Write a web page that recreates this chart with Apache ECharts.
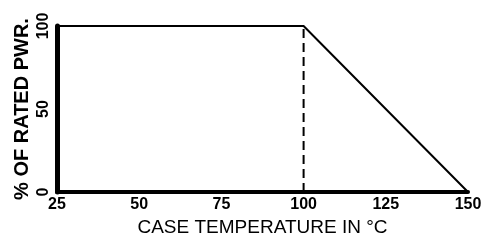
<!DOCTYPE html>
<html>
<head>
    <meta charset='utf-8' />
    <script src="https://cdn.jsdelivr.net/npm/echarts@6/dist/echarts.min.js"></script>
    <title>Power Derating</title>
    <style>
        html, body { margin: 0; padding: 0; background: #fff; }
        #chart { width: 487px; height: 245px; }
    </style>
</head>
<body>
    <div id="chart"></div>
    <script type="text/javascript">
        // derating curve: case temperature (°C) vs % of rated power
        var temps = [25, 100, 150];
        var power = [100, 100, 0];
        // vertical dashed marker at the knee
        var kneeTemp = [100, 100];
        var kneePower = [0, 100];
        var xTicks = [25, 50, 75, 100, 125, 150];
        var yTicks = [0, 50, 100];

        var curve = temps.map(function(t, i) { return [t, power[i]]; });
        var knee = kneeTemp.map(function(t, i) { return [t, kneePower[i]]; });

        var font = 'Liberation Sans';
        var chart = echarts.init(document.getElementById('chart'), null, { renderer: 'canvas' });
        chart.setOption({
            animation: false,
            backgroundColor: '#fff',
            grid: { left: 57, right: 19, top: 26, bottom: 53, outerBoundsMode: 'none' },
            xAxis: {
                type: 'value',
                min: 25,
                max: 150,
                interval: 25,
                name: 'CASE TEMPERATURE IN °C',
                nameLocation: 'middle',
                nameGap: 26,
                nameMoveOverlap: false,
                nameTextStyle: { fontFamily: font, fontSize: 19, color: '#000', verticalAlign: 'top' },
                axisLine: { lineStyle: { color: '#000', width: 4 } },
                axisTick: { show: false },
                splitLine: { show: false },
                axisLabel: {
                    fontFamily: font, fontSize: 16, fontWeight: 'bold', color: '#000', margin: 5,
                    customValues: xTicks
                }
            },
            yAxis: {
                type: 'value',
                min: 0,
                max: 100,
                interval: 50,
                name: '% OF RATED PWR.',
                nameLocation: 'middle',
                nameRotate: 90,
                nameGap: 25,
                nameMoveOverlap: false,
                nameTextStyle: { fontFamily: font, fontSize: 20, fontWeight: 'bold', color: '#000' },
                axisLine: { show: true, lineStyle: { color: '#000', width: 5 } },
                axisTick: { show: false },
                splitLine: { show: false },
                axisLabel: {
                    fontFamily: font, fontSize: 16, fontWeight: 'bold', color: '#000', margin: 5,
                    rotate: 90, customValues: yTicks
                }
            },
            series: [{
                type: 'line',
                data: curve,
                symbol: 'none',
                lineStyle: { color: '#000', width: 2 }
            }, {
                type: 'line',
                data: knee,
                symbol: 'none',
                lineStyle: { color: '#000', width: 2, type: [9, 5] }
            }]
        });
    </script>
</body>
</html>
